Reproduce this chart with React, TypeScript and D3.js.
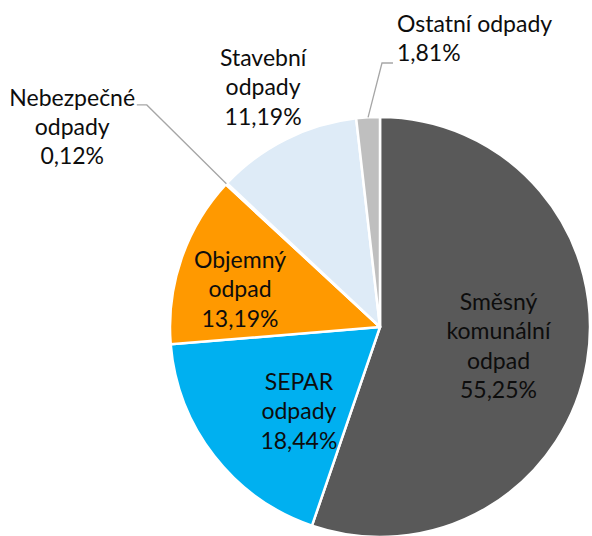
import { useEffect, useRef } from "react";
import * as d3 from "d3";

const CATEGORIES = [
  "Směsný komunální odpad",
  "SEPAR odpady",
  "Objemný odpad",
  "Nebezpečné odpady",
  "Stavební odpady",
  "Ostatní odpady",
];
const SHARES = [55.25, 18.44, 13.19, 0.12, 11.19, 1.81];
const COLORS = ["#595959", "#00B0F0", "#FF9900", "#C00000", "#DEEBF7", "#BFBFBF"];

// label text split into lines as in the source chart
const LABEL_LINES = [
  ["Směsný", "komunální", "odpad"],
  ["SEPAR", "odpady"],
  ["Objemný", "odpad"],
  ["Nebezpečné", "odpady"],
  ["Stavební", "odpady"],
  ["Ostatní odpady"],
];

const W = 592;
const H = 536;
const CX = 380;
const CY = 327;
const R = 210;
const LINE_H = 29.3;
const FONT = "Lato, 'Open Sans', sans-serif";

// polar label anchors (radius px, angle deg clockwise from top), text anchor, optional leader
type Place = { r: number; deg: number; anchor: string; elbow?: [number, number]; tail?: number };
const PLACES: Place[] = [
  { r: 120, deg: 99.1, anchor: "middle" },
  { r: 117, deg: 223.9, anchor: "middle" },
  { r: 145, deg: 285.1, anchor: "middle" },
  { r: 367, deg: 303.0, anchor: "middle", elbow: [322, 313.6], tail: -10 },
  { r: 266.7, deg: 334.0, anchor: "middle" },
  { r: 288.9, deg: 3.37, anchor: "start", elbow: [264, 0.43], tail: 11 },
];

const fmt = (v: number) => v.toFixed(2).replace(".", ",") + "%";
const polar = (r: number, deg: number): [number, number] => {
  const a = (deg * Math.PI) / 180;
  return [r * Math.sin(a), -r * Math.cos(a)];
};

export default function App() {
  const svgRef = useRef<SVGSVGElement>(null);

  useEffect(() => {
    document.body.style.margin = "0";
    const svg = d3.select(svgRef.current);
    svg.selectAll("*").remove();

    const data = CATEGORIES.map((name, i) => ({ name, value: SHARES[i], i }));
    const pie = d3.pie<any>().sort(null).value((d) => d.value);
    const arcs = pie(data);
    const arc = d3.arc<any>().innerRadius(0).outerRadius(R);
    const rim = d3.arc<any>().innerRadius(R).outerRadius(R);

    const g = svg.append("g").attr("transform", `translate(${CX},${CY})`);

    g.selectAll("path.slice")
      .data(arcs)
      .join("path")
      .attr("class", "slice")
      .attr("d", arc)
      .attr("fill", (d) => COLORS[d.data.i])
      .attr("stroke", "#fff")
      .attr("stroke-width", 2.5)
      .attr("stroke-linejoin", "round");

    // leader lines
    arcs.forEach((d) => {
      const p = PLACES[d.data.i];
      if (!p.elbow) return;
      const start = rim.centroid(d);
      const elbow = polar(p.elbow[0], p.elbow[1]);
      const end: [number, number] = [elbow[0] + (p.tail || 0), elbow[1]];
      g.append("path")
        .attr("d", d3.line()([start, elbow, end]))
        .attr("fill", "none")
        .attr("stroke", "#A6A6A6")
        .attr("stroke-width", 1.3);
    });

    // labels
    arcs.forEach((d) => {
      const p = PLACES[d.data.i];
      const [x, y] = polar(p.r, p.deg);
      const lines = [...LABEL_LINES[d.data.i], fmt(d.data.value)];
      const first = y - ((lines.length - 1) * LINE_H) / 2 + 8;
      const t = g.append("text")
        .attr("text-anchor", p.anchor)
        .attr("font-family", FONT)
        .attr("font-size", 23)
        .attr("fill", "#0d0d0d");
      lines.forEach((s, k) => {
        t.append("tspan").attr("x", x).attr("y", first + k * LINE_H).text(s);
      });
    });
  }, []);

  return (
    <div style={{ position: "absolute", left: 0, top: 0, width: W, height: H, background: "#fff" }}>
      <svg ref={svgRef} width={W} height={H} style={{ display: "block" }} />
    </div>
  );
}
